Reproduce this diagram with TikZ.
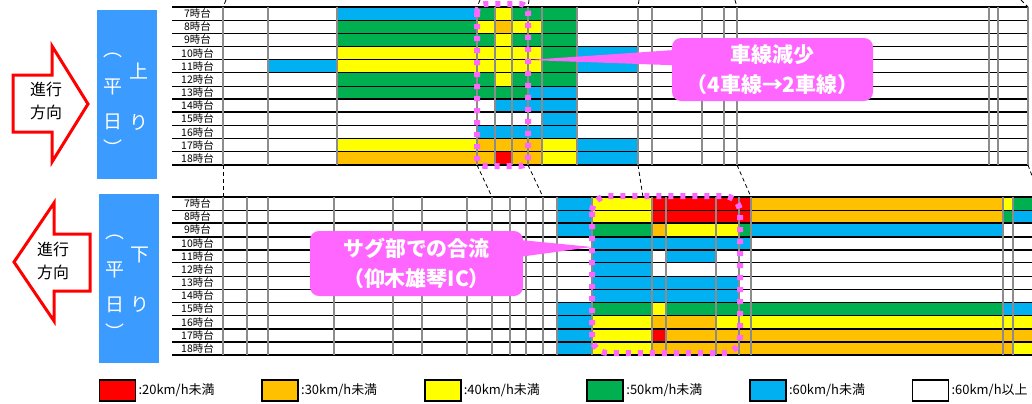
\documentclass[tikz,border=0pt]{standalone}
\usepackage{fontspec}
\setmainfont{Noto Sans CJK JP}
\usetikzlibrary{calc,positioning}
\definecolor{cR}{HTML}{FF0000}
\definecolor{cO}{HTML}{FFC000}
\definecolor{cY}{HTML}{FFFF00}
\definecolor{cG}{HTML}{00B050}
\definecolor{cB}{HTML}{00B0F0}
\definecolor{cW}{HTML}{FFFFFF}
\definecolor{SideBlue}{HTML}{3C9BFF}
\definecolor{NotePink}{HTML}{FF66FF}
\definecolor{GridGray}{HTML}{8C8C8C}
\tikzset{
	hline/.style={line width=1bp},
	thickline/.style={line width=2bp},
	vline/.style={GridGray, line width=1.3bp},
	link/.style={dash pattern=on 4bp off 3bp, line width=0.8bp}
}
\begin{document}
\begin{tikzpicture}[x=1bp, y=-1bp,
		RowLabel/.style={font=\fontsize{10.5}{10.5}\selectfont, inner sep=0pt},
		DotBox/.style={draw=NotePink, line width=6bp, dash pattern=on 5bp off 7bp},
		Note/.style={fill=NotePink, rounded corners=9bp, text=white, align=center, inner sep=0pt, font=\fontsize{21}{30}\selectfont\bfseries},
		SideBox/.style={fill=SideBlue, minimum width=60bp, minimum height=169bp, inner sep=0pt},
		SideText/.style={text=white, inner sep=0pt, font=\fontsize{19}{19}\selectfont},
		GoArrow/.style={draw=red, line width=3bp, fill=white, line join=miter},
		GoText/.style={align=center, inner sep=0pt, font=\fontsize{16}{23}\selectfont},
		KeyBox/.style={draw, line width=1.8bp, minimum width=36bp, minimum height=21bp, inner sep=0pt},
		KeyText/.style={inner sep=0pt, font=\fontsize{13}{13}\selectfont}]
	\useasboundingbox (0,0) rectangle (1032,403);
	\foreach \row [count=\r] in {
			{cW,cW,cB,cG,cY,cG,cG,cG,cW}, {cW,cW,cG,cY,cO,cY,cY,cG,cW}, {cW,cW,cG,cG,cY,cG,cG,cG,cW},
			{cW,cW,cY,cY,cY,cY,cY,cG,cB}, {cW,cB,cY,cY,cY,cY,cY,cG,cB}, {cW,cW,cG,cG,cY,cG,cG,cG,cW},
			{cW,cW,cG,cG,cG,cG,cB,cB,cW}, {cW,cW,cW,cW,cB,cB,cB,cB,cW}, {cW,cW,cW,cW,cW,cW,cW,cB,cW},
			{cW,cW,cW,cB,cB,cB,cB,cB,cW}, {cW,cW,cY,cO,cO,cO,cO,cY,cB}, {cW,cW,cO,cO,cR,cO,cO,cY,cB}}{
		\foreach \c [count=\k] in \row {
			\pgfmathsetmacro\xa{{223,268,337,477,495,512,528,542,577}[\k-1]}
			\pgfmathsetmacro\xb{{268,337,477,495,512,528,542,577,638}[\k-1]}
			\fill[\c] (\xa,{7+13.1667*(\r-1)}) rectangle (\xb,{7+13.1667*\r});
		}
	}
	\foreach \row [count=\r] in {
			{cB,cY,cR,cR,cR,cR,cO,cY,cG}, {cB,cY,cR,cR,cR,cR,cO,cG,cB}, {cB,cG,cO,cY,cY,cG,cB,cW,cW},
			{cW,cB,cB,cB,cB,cB,cW,cW,cW}, {cW,cB,cW,cB,cW,cW,cW,cW,cW}, {cW,cB,cW,cW,cW,cW,cW,cW,cW},
			{cW,cB,cB,cB,cB,cW,cW,cW,cW}, {cW,cB,cB,cB,cB,cW,cW,cW,cW}, {cB,cG,cY,cG,cG,cG,cG,cB,cB},
			{cB,cY,cO,cO,cY,cY,cY,cY,cY}, {cB,cY,cR,cO,cO,cO,cO,cO,cO}, {cB,cY,cO,cO,cO,cO,cO,cO,cY}}{
		\foreach \c [count=\k] in \row {
			\pgfmathsetmacro\xa{{557,592,652,666,716,739,751,1003,1013}[\k-1]}
			\pgfmathsetmacro\xb{{592,652,666,716,739,751,1003,1013,1032}[\k-1]}
			\fill[\c] (\xa,{197+13.1667*(\r-1)}) rectangle (\xb,{197+13.1667*\r});
		}
	}
	\foreach \r in {0,...,12} {
		\draw[hline] (172,{7+13.1667*\r}) -- (1028,{7+13.1667*\r});
		\draw[hline] (172,{197+13.1667*\r}) -- (1032,{197+13.1667*\r});
	}
	\foreach \r in {0,7,8,12} \draw[thickline] (172,{7+13.1667*\r}) -- (1028,{7+13.1667*\r});
	\foreach \r in {0,2,3,4,10,11,12} \draw[thickline] (172,{197+13.1667*\r}) -- (1032,{197+13.1667*\r});
	\foreach \x in {223,268,337,477,495,512,528,542,577,638,652,702,724,737,989,998,1028}
	\draw[vline] (\x,7) -- (\x,165);
	\foreach \x in {223,247,268,334,393,422,467,492,510,526,543,557,592,652,666,716,739,751,1003,1013}
	\draw[vline] (\x,197) -- (\x,355);
	\foreach \h [count=\r] in {7,...,18} {
		\node[RowLabel] (up\h) at (197.5,{7+13.1667*(\r-0.5)}) {\h{}時台};
		\node[RowLabel] (down\h) at (197.5,{197+13.1667*(\r-0.5)}) {\h{}時台};
	}
	\foreach \a/\b [count=\k] in {226/223,480/477,529/528,639/638,735/737,1021/1028} {
		\coordinate (in\k) at (\a,0);
		\coordinate (top\k) at (\b,7);
		\draw[link] (in\k) -- (top\k);
	}
	\foreach \a/\b [count=\k] in {223/223,477/492,528/543,638/643,737/751,1028/1040} {
		\coordinate (from\k) at (\a,165);
		\coordinate (to\k) at (\b,197);
		\draw[link] (from\k) -- (to\k);
	}
	\draw[DotBox, rounded corners=8bp] (477,4) rectangle (528,166);
	\draw[DotBox, rounded corners=16bp] (592,196) rectangle (740,353);
	\node[Note, minimum width=201bp, minimum height=63bp] (lanenote) at (772.5,69.5) {車線減少\\（4車線→2車線）};
	\coordinate (lanetip) at (528,60);
	\fill[NotePink] ($(lanenote.west)+(10,-20)$) -- (lanetip) -- ($(lanenote.west)+(10,-4)$) -- cycle;
	\node[Note, minimum width=213bp, minimum height=65bp] (sagnote) at (416.5,263.5) {サグ部での合流\\（仰木雄琴IC）};
	\coordinate (sagtip) at (592,247);
	\fill[NotePink] ($(sagnote.east)+(-8,-24)$) -- (sagtip) -- ($(sagnote.east)+(-8,-6)$) -- cycle;
	\node[SideBox] (upbox) at (127,94.5) {};
	\node[SideBox] (downbox) at (129,278.5) {};
	\foreach \t/\x/\y [count=\k] in {︵/113/55,平/113/87,日/113/122,︶/113/148,上/139/71,り/139/122}
	\node[SideText] (upch\k) at (\x,\y) {\t};
	\foreach \t/\x/\y [count=\k] in {︵/115/237,平/115/270,日/115/305,︶/115/332,下/140/255,り/140/304}
	\node[SideText] (downch\k) at (\x,\y) {\t};
	\draw[GoArrow] (13,75) -- (52,75) -- (52,46) -- (88,104) -- (52,162) -- (52,132) -- (13,132) -- cycle;
	\node[GoText] (upgo) at (46,101) {進行\\方向};
	\draw[GoArrow] (14,262) -- (54,203) -- (54,234) -- (90,234) -- (90,291) -- (54,291) -- (54,321) -- cycle;
	\node[GoText] (downgo) at (53,261) {進行\\方向};
	\foreach \col/\txt [count=\i from 0] in {cR/{:20km/h未満},cO/{:30km/h未満},cY/{:40km/h未満},cG/{:50km/h未満},cB/{:60km/h未満},cW/{:60km/h以上}} {
		\node[KeyBox, fill=\col] (key\i) at ({117.5+162.6*\i},390.5) {};
		\node[KeyText, right=2bp of key\i] (keytext\i) {\txt};
	}
\end{tikzpicture}
\end{document}
